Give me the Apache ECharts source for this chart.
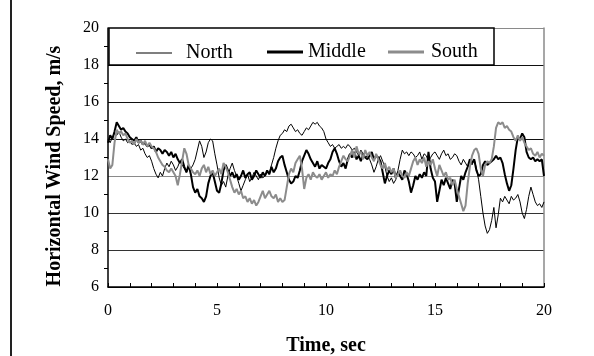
<!DOCTYPE html>
<html>
<head>
<meta charset="utf-8">
<script src="https://cdn.jsdelivr.net/npm/echarts@6/dist/echarts.min.js"></script>
<style>
  html, body { margin: 0; padding: 0; background: #fff; }
  #chart { width: 594px; height: 356px; }
</style>
</head>
<body>
<div id="chart"></div>
<script>
// Horizontal wind speed records (m/s), sampled every 0.1 s from 0 to 20 s
const SAMPLE_STEP = 0.1;

const north = [
  14.0,13.8,14.1,14.3,14.2,14.4,14.1,13.9,14.0,13.8,
  13.9,13.7,13.8,13.6,13.7,13.4,13.5,13.2,13.0,13.1,
  12.8,12.4,12.1,11.9,12.2,12.0,12.4,12.7,12.5,12.8,
  12.6,12.3,12.5,12.8,12.6,12.4,12.2,12.5,12.4,12.6,
  12.9,13.4,13.9,13.6,13.0,13.3,13.8,14.0,13.9,13.2,
  12.6,11.9,11.5,11.7,11.4,12.0,12.4,12.7,12.3,12.0,
  11.6,11.2,11.5,11.8,12.1,11.7,11.9,12.2,12.0,11.8,
  12.1,11.9,12.0,12.2,12.1,12.6,13.0,13.5,13.9,14.2,
  14.3,14.5,14.4,14.7,14.8,14.6,14.4,14.5,14.3,14.2,
  14.4,14.6,14.5,14.7,14.9,14.8,14.9,14.7,14.6,14.4,
  14.0,13.8,13.6,13.7,13.5,13.6,13.7,13.5,13.6,13.5,
  13.7,13.6,13.4,13.5,13.3,13.1,13.4,13.2,13.0,13.1,
  12.9,12.6,12.2,12.5,12.9,13.1,12.8,12.5,12.0,11.7,
  11.9,11.6,11.8,12.3,12.9,13.4,13.2,13.3,13.1,13.3,
  13.2,13.0,13.1,13.3,12.9,13.2,13.1,12.8,13.0,13.2,
  13.3,13.1,12.9,13.2,13.4,13.1,13.2,12.9,13.0,13.2,
  13.1,12.8,12.6,12.9,12.7,12.5,12.8,12.6,12.9,12.4,
  11.8,10.9,10.0,9.3,8.9,9.1,9.6,10.3,9.2,9.9,
  10.8,10.6,10.9,10.7,10.5,10.9,10.7,10.8,11.0,10.6,
  10.0,9.7,10.2,10.9,11.4,11.0,10.6,10.4,10.5,10.3,
  10.6
];

const middle = [
  13.8,14.2,14.0,14.4,14.9,14.7,14.5,14.6,14.4,14.3,
  14.1,14.0,13.9,14.1,13.8,13.9,13.7,13.8,13.6,13.7,
  13.5,13.6,13.3,13.5,13.4,13.2,13.4,13.3,13.1,13.3,
  13.0,13.2,12.9,12.7,12.9,12.5,12.2,12.6,12.1,11.4,
  11.1,11.3,10.9,10.8,10.6,10.9,11.6,12.0,12.2,11.7,
  11.2,11.1,11.6,12.3,12.6,12.3,12.0,12.2,11.9,12.1,
  11.8,12.0,12.3,11.9,12.1,12.2,11.8,12.0,12.3,12.1,
  11.9,12.2,12.0,12.3,12.1,12.5,12.2,12.4,12.8,13.0,
  13.1,12.6,12.2,11.8,11.6,11.7,12.0,11.9,12.3,12.8,
  13.1,13.4,13.2,12.9,12.7,12.5,12.8,12.4,12.6,12.5,
  12.4,12.7,12.9,13.3,13.5,13.2,12.8,12.5,12.7,12.4,
  12.9,13.2,13.0,13.3,12.9,13.1,12.8,13.2,13.0,12.9,
  13.1,13.3,12.9,13.1,13.0,12.8,12.2,11.6,12.0,12.3,
  12.1,12.4,11.9,12.2,12.0,11.8,12.3,12.1,11.7,11.1,
  11.5,12.0,11.8,12.1,11.9,12.2,12.0,13.3,12.4,11.9,
  11.7,10.6,11.2,11.8,11.5,11.9,11.6,11.3,11.8,11.6,
  10.6,11.3,12.0,11.8,12.2,12.5,12.9,12.7,12.9,12.3,
  12.0,12.1,12.6,12.8,12.6,12.7,12.8,12.9,13.1,12.9,
  13.0,12.7,12.1,11.6,11.2,11.5,12.4,13.4,14.1,14.0,
  14.3,14.1,13.3,13.0,12.9,13.0,12.8,12.9,12.8,12.9,
  12.0
];

const south = [
  12.9,12.4,12.6,13.8,14.5,14.3,14.4,14.2,14.3,14.0,
  13.8,13.9,13.7,14.0,13.8,13.9,13.7,13.9,13.6,13.8,
  13.6,13.5,13.3,13.0,12.8,12.6,12.5,12.3,12.2,12.4,
  12.2,12.0,11.5,12.1,12.8,13.5,13.2,12.6,12.4,12.2,
  12.1,12.3,12.0,12.4,12.6,12.2,12.5,12.1,12.3,12.0,
  12.2,12.4,12.1,12.7,12.5,12.2,11.8,11.4,11.1,11.3,
  11.0,11.2,10.8,10.9,10.6,10.8,10.5,10.7,10.4,10.6,
  10.9,11.2,10.8,11.0,11.2,10.9,10.8,11.0,10.6,10.8,
  10.6,10.7,11.4,12.1,12.4,12.2,12.7,12.9,13.1,12.4,
  11.3,11.9,12.1,11.8,12.2,12.0,11.9,12.1,11.8,12.0,
  12.2,11.9,12.1,12.0,12.3,12.1,12.5,12.8,13.1,12.9,
  12.8,13.1,13.4,13.0,13.6,13.2,13.3,12.9,13.4,13.1,
  13.3,13.0,12.8,13.2,12.9,12.6,12.4,12.7,12.3,12.5,
  12.2,12.4,11.9,12.1,12.3,12.0,11.9,12.2,12.0,12.4,
  12.8,13.0,12.6,12.9,12.7,13.0,12.5,12.8,12.6,12.9,
  12.4,12.0,12.6,12.3,12.0,12.2,11.8,11.9,11.5,11.8,
  11.3,10.9,10.5,10.1,10.4,11.6,12.5,13.1,13.4,13.5,
  13.2,12.4,12.0,12.6,12.8,12.7,12.9,13.6,14.6,14.9,
  14.8,14.9,14.6,14.7,14.5,14.4,14.1,13.9,14.2,13.9,
  14.1,13.8,13.6,13.4,13.5,13.2,13.1,13.3,13.0,13.2,
  13.1
];

const seriesNames = ['North', 'Middle', 'South'];
const yTicks = [6, 8, 10, 12, 14, 16, 18, 20];
const xTicks = [0, 5, 10, 15, 20];

const SERIF = '"Liberation Serif", "Times New Roman", serif';

function withTime(values) {
  return values.map((v, i) => [Math.round(i * SAMPLE_STEP * 10) / 10, v]);
}

const chart = echarts.init(document.getElementById('chart'), null, { renderer: 'canvas' });

// One legend per series so each entry can sit at its own spot inside the key box;
// the key marker is a thin bar as thick as the line it stands for.
function legendFor(name, left, textPad, lineWidth, color) {
  return {
    data: [name],
    left: left,
    top: 43.5 - lineWidth / 2,
    padding: 0,
    icon: 'rect',
    itemWidth: 36,
    itemHeight: lineWidth,
    selectedMode: false,
    z: 20,
    itemStyle: { color: color, borderWidth: 0 },
    textStyle: {
      fontFamily: SERIF, fontSize: 20, color: '#000',
      padding: [0, 0, 0, textPad]
    }
  };
}

chart.setOption({
  animation: false,
  backgroundColor: '#fff',
  grid: { left: 108, right: 50, top: 28, bottom: 69, containLabel: false },
  xAxis: {
    type: 'value',
    min: xTicks[0],
    max: xTicks[xTicks.length - 1],
    interval: 5,
    axisLine: { show: true, lineStyle: { color: '#000', width: 1.5 } },
    axisTick: { show: true, inside: true, length: 4, lineStyle: { color: '#000' } },
    minorTick: { show: true, splitNumber: 5, length: 4, lineStyle: { color: '#000' } },
    splitLine: { show: false },
    axisLabel: {
      margin: 16, fontFamily: SERIF, fontSize: 16, color: '#000',
      formatter: v => String(v)
    }
  },
  yAxis: [{
    type: 'value',
    min: yTicks[0],
    max: yTicks[yTicks.length - 1],
    interval: 2,
    axisLine: { show: true, lineStyle: { color: '#000', width: 1.5 } },
    axisTick: { show: false },
    minorTick: { show: true, splitNumber: 2, length: 4, lineStyle: { color: '#000' } },
    splitLine: {
      show: true,
      lineStyle: {
        width: 1,
        color: ['#000', '#333', '#333', '#8a8a8a', '#111', '#111', '#111', '#8a8a8a']
      }
    },
    axisLabel: { margin: 9, fontFamily: SERIF, fontSize: 16, color: '#000' }
  }, {
    type: 'value',
    position: 'right',
    min: yTicks[0],
    max: yTicks[yTicks.length - 1],
    axisLine: { show: true, lineStyle: { color: '#8a8a8a', width: 1.5 } },
    axisTick: { show: false },
    axisLabel: { show: false },
    splitLine: { show: false }
  }],
  legend: [
    legendFor('North', 136, 9, 1, '#000'),
    legendFor('Middle', 267, 0, 3, '#000'),
    legendFor('South', 388, 2, 3, '#8c8c8c')
  ],
  graphic: [
    {
      type: 'rect', z: 10,
      shape: { x: 109, y: 28, width: 385, height: 37 },
      style: { fill: '#fff', stroke: '#000', lineWidth: 1.5 }
    },
    {
      type: 'line', z: 10,
      shape: { x1: 11, y1: 0, x2: 11, y2: 356 },
      style: { stroke: '#222', lineWidth: 2 }
    },
    {
      type: 'text', z: 10,
      x: 55, y: 166, rotation: Math.PI / 2,
      style: {
        text: 'Horizontal Wind Speed, m/s',
        font: 'bold 20px ' + SERIF,
        fill: '#000', align: 'center', verticalAlign: 'middle'
      }
    },
    {
      type: 'text', z: 10,
      x: 326, y: 346,
      style: {
        text: 'Time, sec',
        font: 'bold 20px ' + SERIF,
        fill: '#000', align: 'center', verticalAlign: 'middle'
      }
    }
  ],
  series: [
    {
      name: seriesNames[0], type: 'line', data: withTime(north),
      showSymbol: false, symbol: 'none', smooth: false,
      lineStyle: { color: '#000', width: 1 }, itemStyle: { color: '#000' }, z: 3
    },
    {
      name: seriesNames[1], type: 'line', data: withTime(middle),
      showSymbol: false, symbol: 'none', smooth: false,
      lineStyle: { color: '#000', width: 2 }, itemStyle: { color: '#000' }, z: 4
    },
    {
      name: seriesNames[2], type: 'line', data: withTime(south),
      showSymbol: false, symbol: 'none', smooth: false,
      lineStyle: { color: '#8c8c8c', width: 2 }, itemStyle: { color: '#8c8c8c' }, z: 5
    }
  ]
});
</script>
</body>
</html>
